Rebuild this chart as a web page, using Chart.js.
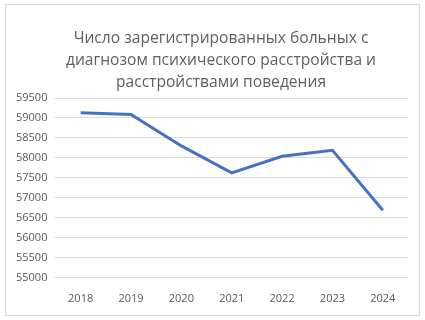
<!DOCTYPE html>
<html>
<head>
<meta charset="utf-8">
<script src="https://cdn.jsdelivr.net/npm/chart.js@4"></script>
<style>
  body { margin: 0; background: #fff; }
  #box { position: absolute; left: 5px; top: 4px; width: 413px; height: 310px; border: 1px solid #d9d9d9; overflow: hidden; }
  #grafiek { position: absolute; left: 0; top: 0; }
  #titel {
    position: absolute; left: 14px; top: 21px; width: 402px;
    text-align: center; font-family: 'Open Sans'; font-size: 15.6px; line-height: 22px; color: #5f5f5f;
  }
</style>
</head>
<body>
<div id="box">
  <canvas id="grafiek" width="413" height="310"></canvas>
  <div id="titel"></div>
</div>
<script>
const jaren = ["2018", "2019", "2020", "2021", "2022", "2023", "2024"];
const aantallen = [59130, 59085, 58300, 57625, 58040, 58190, 56690];
const titelRegels = ["Число зарегистрированных больных с", "диагнозом психического расстройства и", "расстройствами поведения"];

// titel als echte tekst boven de grafiek, iets rechts van het midden zoals in Excel
document.getElementById('titel').innerHTML = titelRegels.join('<br>');

new Chart(document.getElementById('grafiek'), {
    type: 'line',
    data: {
        labels: jaren,
        datasets: [{
            data: aantallen,
            borderColor: '#4472c4',
            borderWidth: 3,
            pointRadius: 0,
            tension: 0,
            fill: false
        }]
    },
    options: {
        responsive: false,
        animation: false,
        layout: { padding: { left: 2, right: 11, top: 93, bottom: 4 } },
        plugins: {
            legend: { display: false },
            tooltip: { enabled: false },
            title: { display: false }
        },
        scales: {
            x: {
                offset: true,
                grid: { display: false },
                border: { display: false },
                ticks: { color: '#595959', font: { family: 'Open Sans', size: 11 }, padding: 6 }
            },
            y: {
                min: 55000,
                max: 59500,
                ticks: {
                    stepSize: 500, color: '#595959', font: { family: 'Open Sans', size: 11 }, padding: 8,
                    callback: v => String(v)
                },
                grid: { color: '#d9d9d9', lineWidth: 1, drawTicks: false },
                border: { display: false }
            }
        }
    }
});
</script>
</body>
</html>
